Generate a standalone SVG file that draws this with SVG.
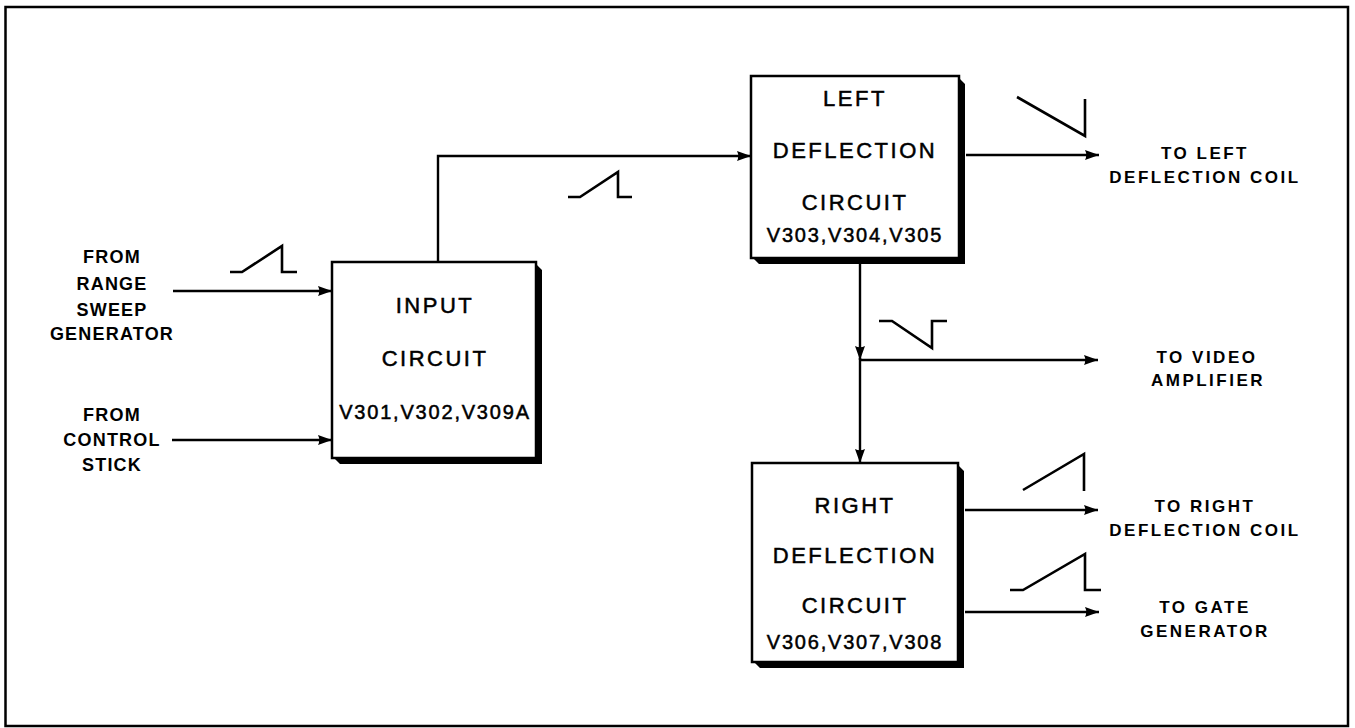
<svg xmlns="http://www.w3.org/2000/svg" width="1355" height="728" viewBox="0 0 1355 728">
<style>
.box{fill:#fff;stroke:#000;stroke-width:2.5}
.sh{fill:#000}
.ln{fill:none;stroke:#000;stroke-width:2.4}
.wv{fill:none;stroke:#000;stroke-width:2.6;stroke-linejoin:miter}
.bt{font-family:"Liberation Sans",Arial,sans-serif;font-size:22px;letter-spacing:2.5px;text-anchor:middle;fill:#000;stroke:#000;stroke-width:0.5}
.vt{font-family:"Liberation Sans",Arial,sans-serif;font-size:20px;letter-spacing:1.8px;text-anchor:middle;fill:#000;stroke:#000;stroke-width:0.5}
.lt{font-family:"Liberation Sans",Arial,sans-serif;font-size:18px;font-weight:bold;letter-spacing:1.2px;text-anchor:middle;fill:#000}
.rt{font-family:"Liberation Sans",Arial,sans-serif;font-size:17px;font-weight:bold;letter-spacing:2.5px;text-anchor:middle;fill:#000}
</style>
<defs>
<marker id="ah" markerUnits="userSpaceOnUse" markerWidth="15" markerHeight="11" refX="14" refY="5.5" orient="auto">
<path d="M0,0.5 L14,5.5 L0,10.5 Q2.5,5.5 0,0.5 z" fill="#000"/>
</marker>
</defs>
<rect x="0" y="0" width="1355" height="728" fill="#fff"/>
<rect id="frame" x="5.5" y="7" width="1342.5" height="719" fill="none" stroke="#000" stroke-width="2.5"/>

<g id="connectors">
<line class="ln" x1="173" y1="291" x2="332" y2="291" marker-end="url(#ah)"/>
<line class="ln" x1="172" y1="440" x2="332" y2="440" marker-end="url(#ah)"/>
<polyline class="ln" points="438,262 438,156 751,156" marker-end="url(#ah)"/>
<line class="ln" x1="966" y1="155" x2="1099" y2="155" marker-end="url(#ah)"/>
<line class="ln" x1="860" y1="264" x2="860" y2="360" marker-end="url(#ah)"/>
<line class="ln" x1="860" y1="358" x2="860" y2="463" marker-end="url(#ah)"/>
<line class="ln" x1="860" y1="360" x2="1098" y2="360" marker-end="url(#ah)"/>
<line class="ln" x1="965" y1="510" x2="1098" y2="510" marker-end="url(#ah)"/>
<line class="ln" x1="965" y1="612" x2="1099" y2="612" marker-end="url(#ah)"/>
</g>

<g id="waveforms">
<polyline class="wv" points="230,272 242,272 282,246 282,272 297,272"/>
<polyline class="wv" points="568,197 580,197 618,172 618,197 632,197"/>
<polyline class="wv" points="1017,97 1085,136 1085,99"/>
<polyline class="wv" points="879,321 892,321 932,348 932,321 947,321"/>
<polyline class="wv" points="1023,490 1084,454 1084,491"/>
<polyline class="wv" points="1010,590 1023,590 1085,554 1085,590 1101,590"/>
</g>

<g id="input-circuit">
<polygon class="sh" points="536,264 542,270 542,464 340,464 334,458 536,458"/>
<rect class="box" x="332" y="262" width="204" height="196"/>
<text class="bt" x="435" y="313">INPUT</text>
<text class="bt" x="435" y="366">CIRCUIT</text>
<text class="vt" x="435" y="419">V301,V302,V309A</text>
</g>

<g id="left-deflection">
<polygon class="sh" points="959,78 965,84 965,264 759,264 753,258 959,258"/>
<rect class="box" x="751" y="76" width="208" height="182"/>
<text class="bt" x="855" y="106">LEFT</text>
<text class="bt" x="855" y="158">DEFLECTION</text>
<text class="bt" x="855" y="210">CIRCUIT</text>
<text class="vt" x="855" y="242">V303,V304,V305</text>
</g>

<g id="right-deflection">
<polygon class="sh" points="958,465 964,471 964,668 760,668 754,662 958,662"/>
<rect class="box" x="752" y="463" width="206" height="199"/>
<text class="bt" x="855" y="513">RIGHT</text>
<text class="bt" x="855" y="563">DEFLECTION</text>
<text class="bt" x="855" y="613">CIRCUIT</text>
<text class="vt" x="855" y="649">V306,V307,V308</text>
</g>

<g id="labels-in">
<text class="lt" x="112" y="263">FROM</text>
<text class="lt" x="112" y="290">RANGE</text>
<text class="lt" x="112" y="316">SWEEP</text>
<text class="lt" x="112" y="340">GENERATOR</text>
<text class="lt" x="112" y="421">FROM</text>
<text class="lt" x="112" y="446">CONTROL</text>
<text class="lt" x="112" y="471">STICK</text>
</g>

<g id="labels-out">
<text class="rt" x="1205" y="159">TO LEFT</text>
<text class="rt" x="1205" y="183">DEFLECTION COIL</text>
<text class="rt" x="1207" y="363">TO VIDEO</text>
<text class="rt" x="1208" y="386">AMPLIFIER</text>
<text class="rt" x="1205" y="512">TO RIGHT</text>
<text class="rt" x="1205" y="536">DEFLECTION COIL</text>
<text class="rt" x="1205" y="613">TO GATE</text>
<text class="rt" x="1205" y="637">GENERATOR</text>
</g>
</svg>
